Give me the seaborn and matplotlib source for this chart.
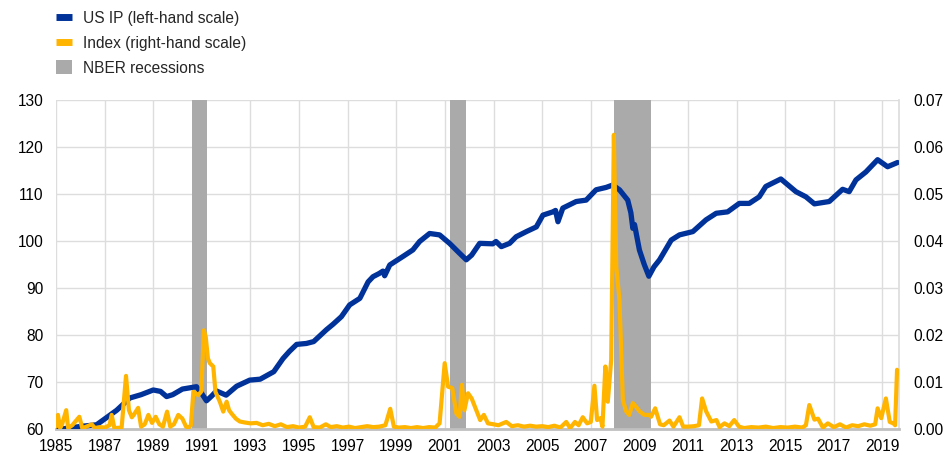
import matplotlib
matplotlib.use("Agg")
import matplotlib.pyplot as plt
from matplotlib.lines import Line2D
from matplotlib.patches import Patch
import seaborn as sns

# US industrial production (left-hand scale), decimal years
ip_year = [1985.00, 1985.50, 1986.10, 1986.67, 1987.10, 1987.50, 1988.04, 1988.50, 1989.00, 1989.30,
           1989.55, 1989.80, 1990.20, 1990.78, 1991.00, 1991.19, 1991.40, 1991.60, 1992.00, 1992.43,
           1992.97, 1993.40, 1993.96, 1994.34, 1994.60, 1994.90, 1995.30, 1995.60, 1995.85, 1996.12,
           1996.40, 1996.74, 1997.08, 1997.50, 1997.84, 1998.04, 1998.30, 1998.45, 1998.52, 1998.73,
           1999.27, 1999.68, 1999.96, 2000.37, 2000.78, 2001.19, 2001.60, 2001.88, 2002.10, 2002.43,
           2002.97, 2003.10, 2003.32, 2003.66, 2003.93, 2004.35, 2004.76, 2005.03, 2005.44, 2005.55,
           2005.65, 2005.85, 2006.40, 2006.81, 2007.22, 2007.63, 2007.90, 2008.18, 2008.52, 2008.65,
           2008.73, 2008.80, 2009.00, 2009.20, 2009.39, 2009.60, 2009.83, 2010.31, 2010.65, 2011.20,
           2011.74, 2012.16, 2012.63, 2013.11, 2013.52, 2013.93, 2014.20, 2014.82, 2015.44, 2015.85,
           2016.20, 2016.81, 2017.36, 2017.63, 2017.91, 2018.32, 2018.80, 2019.21, 2019.62]
ip_value = [59.8, 60.2, 60.6, 60.9, 62.5, 64.0, 66.6, 67.3, 68.3, 68.0,
            66.9, 67.3, 68.5, 69.0, 67.5, 66.0, 67.0, 68.1, 67.2, 69.1,
            70.4, 70.6, 72.2, 75.0, 76.5, 78.0, 78.2, 78.6, 79.8, 81.1,
            82.3, 83.9, 86.4, 87.8, 91.3, 92.4, 93.1, 93.6, 92.6, 94.9,
            96.7, 98.1, 99.9, 101.6, 101.3, 99.5, 97.4, 96.0, 97.0, 99.5,
            99.4, 99.9, 98.8, 99.5, 100.9, 102.0, 103.0, 105.5, 106.2, 106.5,
            104.1, 107.0, 108.4, 108.7, 110.9, 111.4, 111.9, 110.9, 108.7, 106.0,
            102.7, 103.5, 98.1, 95.0, 92.5, 94.5, 96.0, 100.2, 101.3, 102.0,
            104.5, 105.9, 106.2, 108.0, 108.0, 109.4, 111.6, 113.2, 110.5, 109.4,
            107.9, 108.4, 111.0, 110.5, 113.0, 114.7, 117.3, 115.8, 116.7]

# Index (right-hand scale)
idx_year = [1985.00, 1985.08, 1985.17, 1985.25, 1985.42, 1985.50, 1985.67, 1985.96, 1986.08, 1986.25,
            1986.47, 1986.60, 1986.80, 1987.00, 1987.20, 1987.29, 1987.40, 1987.70, 1987.88, 1988.00,
            1988.12, 1988.20, 1988.38, 1988.50, 1988.65, 1988.80, 1988.95, 1989.10, 1989.25, 1989.40,
            1989.57, 1989.70, 1989.85, 1990.03, 1990.20, 1990.35, 1990.44, 1990.55, 1990.65, 1990.85,
            1990.98, 1991.08, 1991.16, 1991.25, 1991.33, 1991.47, 1991.56, 1991.74, 1991.88, 1992.02,
            1992.12, 1992.22, 1992.40, 1992.56, 1992.75, 1993.00, 1993.25, 1993.50, 1993.75, 1994.00,
            1994.25, 1994.50, 1994.75, 1995.00, 1995.25, 1995.44, 1995.60, 1995.85, 1996.10, 1996.30,
            1996.55, 1996.80, 1997.05, 1997.30, 1997.55, 1997.80, 1998.05, 1998.30, 1998.55, 1998.75,
            1998.90, 1999.10, 1999.35, 1999.60, 1999.85, 2000.10, 2000.35, 2000.60, 2000.78, 2000.99,
            2001.13, 2001.30, 2001.47, 2001.60, 2001.70, 2001.80, 2001.95, 2002.10, 2002.29, 2002.45,
            2002.60, 2002.77, 2003.00, 2003.20, 2003.52, 2003.75, 2004.00, 2004.25, 2004.50, 2004.75,
            2005.00, 2005.25, 2005.50, 2005.75, 2005.99, 2006.15, 2006.35, 2006.50, 2006.67, 2006.85,
            2007.00, 2007.15, 2007.26, 2007.40, 2007.48, 2007.60, 2007.70, 2007.84, 2007.95, 2008.05,
            2008.18, 2008.32, 2008.45, 2008.58, 2008.73, 2008.85, 2009.00, 2009.20, 2009.40, 2009.48,
            2009.65, 2009.85, 2010.00, 2010.24, 2010.40, 2010.65, 2010.80, 2011.00, 2011.25, 2011.45,
            2011.58, 2011.75, 2011.96, 2012.17, 2012.30, 2012.50, 2012.70, 2012.90, 2013.10, 2013.30,
            2013.60, 2013.90, 2014.20, 2014.50, 2014.80, 2015.10, 2015.40, 2015.70, 2015.85, 2015.99,
            2016.20, 2016.35, 2016.55, 2016.75, 2017.00, 2017.25, 2017.50, 2017.75, 2018.00, 2018.25,
            2018.50, 2018.70, 2018.80, 2018.95, 2019.14, 2019.30, 2019.45, 2019.52, 2019.60]
idx_value = [0.0005, 0.0030, 0.0002, 0.0010, 0.0040, 0.0002, 0.0008, 0.0026, 0.0002, 0.0005,
             0.0010, 0.0002, 0.0004, 0.0003, 0.0008, 0.0030, 0.0002, 0.0003, 0.0113, 0.0040,
             0.0025, 0.0030, 0.0045, 0.0005, 0.0010, 0.0030, 0.0013, 0.0026, 0.0010, 0.0005,
             0.0037, 0.0005, 0.0010, 0.0030, 0.0022, 0.0005, 0.0002, 0.0008, 0.0079, 0.0072,
             0.0080, 0.0210, 0.0196, 0.0150, 0.0140, 0.0133, 0.0079, 0.0058, 0.0037, 0.0058,
             0.0040, 0.0033, 0.0022, 0.0016, 0.0014, 0.0012, 0.0013, 0.0008, 0.0011, 0.0006,
             0.0010, 0.0004, 0.0006, 0.0003, 0.0005, 0.0025, 0.0004, 0.0003, 0.0010, 0.0004,
             0.0006, 0.0003, 0.0005, 0.0002, 0.0004, 0.0006, 0.0004, 0.0005, 0.0008, 0.0043,
             0.0005, 0.0003, 0.0004, 0.0002, 0.0004, 0.0002, 0.0004, 0.0003, 0.0012, 0.0140,
             0.0090, 0.0087, 0.0033, 0.0026, 0.0094, 0.0040, 0.0076, 0.0065, 0.0040, 0.0019,
             0.0030, 0.0012, 0.0010, 0.0008, 0.0015, 0.0006, 0.0008, 0.0005, 0.0007, 0.0005,
             0.0006, 0.0004, 0.0007, 0.0003, 0.0015, 0.0002, 0.0015, 0.0008, 0.0025, 0.0012,
             0.0015, 0.0092, 0.0019, 0.0023, 0.0005, 0.0133, 0.0058, 0.0147, 0.0626, 0.0345,
             0.0274, 0.0062, 0.0038, 0.0030, 0.0055, 0.0048, 0.0038, 0.0030, 0.0030, 0.0026,
             0.0044, 0.0010, 0.0008, 0.0018, 0.0005, 0.0025, 0.0005, 0.0005, 0.0006, 0.0008,
             0.0065, 0.0037, 0.0016, 0.0019, 0.0004, 0.0012, 0.0006, 0.0019, 0.0005, 0.0002,
             0.0004, 0.0003, 0.0005, 0.0002, 0.0004, 0.0003, 0.0005, 0.0003, 0.0008, 0.0051,
             0.0020, 0.0022, 0.0003, 0.0012, 0.0004, 0.0010, 0.0003, 0.0008, 0.0006, 0.0010,
             0.0007, 0.0010, 0.0044, 0.0023, 0.0065, 0.0015, 0.0012, 0.0008, 0.0126]

# NBER recessions
rec_start = [1990.58, 2001.21, 2007.96]
rec_end = [1991.21, 2001.88, 2009.46]

year_ticks = list(range(1985, 2020, 2))

BLUE = "#003299"
YELLOW = "#FFB400"
GREY = "#AAAAAA"
GRID = "#DDDDDD"

sns.set_theme(style="white")
plt.rcParams["font.family"] = ["Liberation Sans", "DejaVu Sans"]
plt.rcParams["font.size"] = 11.2

fig = plt.figure(figsize=(9.46, 4.55), dpi=100)
ax = fig.add_axes([56 / 946, 1 - 429 / 455, (899 - 56) / 946, (429 - 100) / 455])

for s, e in zip(rec_start, rec_end):
    ax.axvspan(s, e, color=GREY, lw=0, zorder=1)

sns.lineplot(x=ip_year, y=ip_value, ax=ax, color=BLUE, linewidth=3.8, zorder=3)
ax.set_xlim(1985.0, 2019.68)
ax.set_ylim(60, 130)
ax.set_yticks(range(60, 131, 10))
ax.set_xticks(year_ticks)
ax.set_xticklabels([str(y) for y in year_ticks])
ax.grid(True, color=GRID, lw=1.0, zorder=0)
ax.set_axisbelow(True)
for side in ["left", "top"]:
    ax.spines[side].set_visible(False)
ax.spines["right"].set_color(GRID)
ax.spines["bottom"].set_color("#C0C0C0")
ax.spines["bottom"].set_linewidth(2)
ax.tick_params(axis="both", length=0, labelsize=11.2, colors="black")
ax.tick_params(axis="y", pad=9)
ax.tick_params(axis="x", pad=7.5)
ax.set_xlabel("")
ax.set_ylabel("")

ax2 = ax.twinx()
sns.lineplot(x=idx_year, y=idx_value, ax=ax2, color=YELLOW, linewidth=3.0, zorder=4)
ax2.set_ylim(0, 0.07)
ax2.set_yticks([0.0, 0.01, 0.02, 0.03, 0.04, 0.05, 0.06, 0.07])
ax2.set_yticklabels([f"{v:.2f}" for v in [0.0, 0.01, 0.02, 0.03, 0.04, 0.05, 0.06, 0.07]])
ax2.grid(False)
for side in ["left", "top", "right", "bottom"]:
    ax2.spines[side].set_visible(False)
ax2.tick_params(axis="y", length=0, labelsize=11.2, colors="black", pad=10)
ax2.set_ylabel("")
ax2.set_xlim(1985.0, 2019.68)

handles = [
    Line2D([0], [0], color=BLUE, lw=5, solid_capstyle="butt"),
    Line2D([0], [0], color=YELLOW, lw=5, solid_capstyle="butt"),
    Patch(facecolor=GREY, edgecolor="none"),
]
labels = ["US IP (left-hand scale)", "Index (right-hand scale)", "NBER recessions"]
fig.legend(handles, labels, loc="upper left", bbox_to_anchor=(56 / 946, 1 - 11 / 455),
           frameon=False, borderpad=0, borderaxespad=0, handlelength=1.0, handleheight=1.0,
           handletextpad=0.75, labelspacing=0.6, fontsize=11.2)

fig.savefig("out.png", dpi=100)
